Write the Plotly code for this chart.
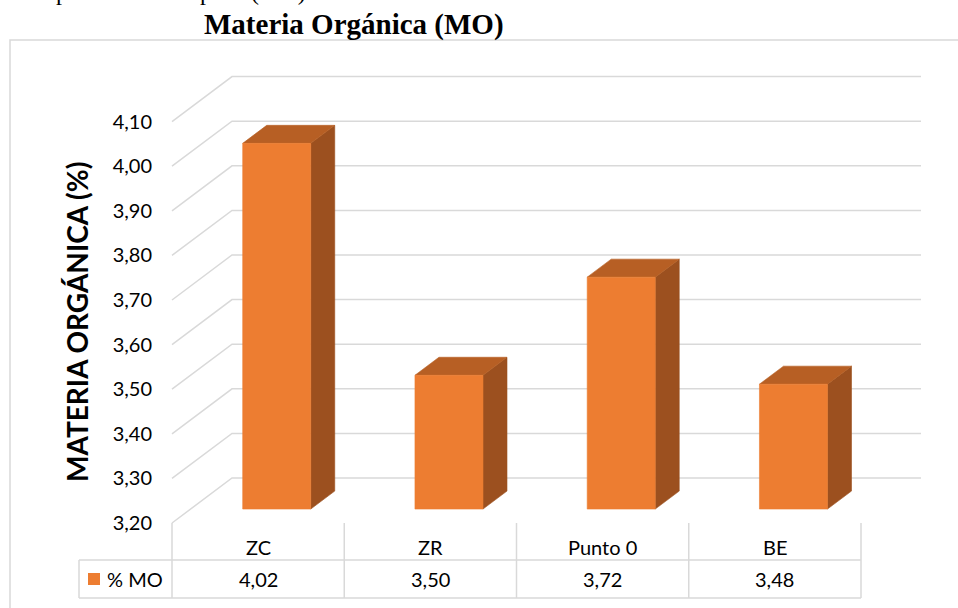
import plotly.graph_objects as go

# ---- data ----
categories = ["ZC", "ZR", "Punto 0", "BE"]
mo_values = [4.02, 3.50, 3.72, 3.48]
series_name = "% MO"
y_ticks = [3.20, 3.30, 3.40, 3.50, 3.60, 3.70, 3.80, 3.90, 4.00, 4.10]
title_text = "Materia Orgánica (MO)"
y_title = "MATERIA ORGÁNICA (%)"

# ---- layout geometry (pixels of the 958x608 canvas) ----
W, H = 958, 608
FLOOR_PX = 523          # base value on the front plane
PX_PER_UNIT_Y = 446     # pixels per 1.0 of value
COL_PX = 172.25         # width of one category column
LEFT_PX = 172           # left edge of the front plane
DOMAIN_LEFT_PX = 153    # where the y axis labels end

base = y_ticks[0]
y_lo = base - (H - FLOOR_PX) / PX_PER_UNIT_Y
y_hi = base + FLOOR_PX / PX_PER_UNIT_Y
x_lo = -(LEFT_PX - DOMAIN_LEFT_PX) / COL_PX
x_hi = (W - LEFT_PX) / COL_PX

# oblique offset from front plane to back wall (axis units)
DX = 60 / COL_PX
DY = 45 / PX_PER_UNIT_Y
# bar placement inside the depth, and bar width (fraction of a column)
D_FRONT, D_BACK = 0.31, 0.71
BAR_W = 0.395

FRONT = "#ED7D31"
TOP = "#B75F24"
SIDE = "#9C501F"
GRID = "#D9D9D9"
FONT = "Lato"


def py(px):
    """canvas pixel row -> paper y"""
    return 1 - px / H


def px_x(px):
    """canvas pixel column -> paper x"""
    return px / W


def col_edge(i):
    """paper x of the i-th column boundary of the front plane / table"""
    return px_x(LEFT_PX + i * COL_PX)


fig = go.Figure()

# back wall gridlines with their receding side-wall segments
n = len(categories)
for v in y_ticks:
    fig.add_trace(go.Scatter(
        x=[0, DX, n + DX], y=[v, v + DY, v + DY],
        mode="lines", line=dict(color=GRID, width=1.5),
        hoverinfo="skip", showlegend=False))


def face(xs, ys, color):
    fig.add_trace(go.Scatter(
        x=xs + [xs[0]], y=ys + [ys[0]], mode="lines", fill="toself",
        fillcolor=color, line=dict(color=color, width=0.6),
        hoverinfo="skip", showlegend=False))


# 3-D columns
for i, v in enumerate(mo_values):
    c = i + 0.5
    xl, xr = c - BAR_W / 2, c + BAR_W / 2
    fx, fy = D_FRONT * DX, D_FRONT * DY
    bx, by = D_BACK * DX, D_BACK * DY
    # right side
    face([xr + fx, xr + bx, xr + bx, xr + fx],
         [base + fy, base + by, v + by, v + fy], SIDE)
    # top
    face([xl + fx, xr + fx, xr + bx, xl + bx],
         [v + fy, v + fy, v + by, v + by], TOP)
    # front
    face([xl + fx, xr + fx, xr + fx, xl + fx],
         [base + fy, base + fy, v + fy, v + fy], FRONT)

shapes = []
line = dict(color=GRID, width=1.5)
# chart frame
shapes.append(dict(type="rect", xref="paper", yref="paper",
                   x0=px_x(10), x1=1.02, y0=-0.02, y1=py(40), line=line))
# data table: vertical separators
for i in range(n + 1):
    shapes.append(dict(type="line", xref="paper", yref="paper",
                       x0=col_edge(i), x1=col_edge(i),
                       y0=py(523), y1=py(598), line=line))
# legend cell left edge
shapes.append(dict(type="line", xref="paper", yref="paper",
                   x0=px_x(79), x1=px_x(79), y0=py(560), y1=py(598), line=line))
# table horizontal lines
for row_px in (560, 598):
    shapes.append(dict(type="line", xref="paper", yref="paper",
                       x0=px_x(79), x1=col_edge(n),
                       y0=py(row_px), y1=py(row_px), line=line))
# legend key square
shapes.append(dict(type="rect", xref="paper", yref="paper",
                   x0=px_x(88), x1=px_x(100), y0=py(585), y1=py(573),
                   fillcolor=FRONT, line=dict(width=0)))

table_font = dict(family=FONT, size=20, color="#000000")
annotations = []
for i, (cat, v) in enumerate(zip(categories, mo_values)):
    annotations.append(dict(x=i + 0.5, y=py(547), xref="x", yref="paper",
                            xanchor="center", yanchor="middle",
                            text=cat, showarrow=False, font=table_font))
    annotations.append(dict(x=i + 0.5, y=py(579), xref="x", yref="paper",
                            xanchor="center", yanchor="middle",
                            text=f"{v:.2f}".replace(".", ","), showarrow=False,
                            font=table_font))
annotations.append(dict(x=px_x(105), y=py(579), xref="paper", yref="paper",
                        xanchor="left", yanchor="middle", text=series_name,
                        showarrow=False, font=table_font))
# axis title
annotations.append(dict(x=px_x(77), y=py(322), xref="paper", yref="paper",
                        xanchor="center", yanchor="middle",
                        text=f"<b>{y_title}</b>", textangle=-90, showarrow=False,
                        font=dict(family=FONT, size=28, color="#000000")))
# chart title
annotations.append(dict(x=px_x(354), y=py(24), xref="paper", yref="paper",
                        xanchor="center", yanchor="middle",
                        text=f"<b>{title_text}</b>", showarrow=False,
                        font=dict(family="Liberation Serif", size=29, color="#000000")))
# tail of the preceding caption line, cut by the page edge
for txt, xp in (("p", 62), ("p", 206), ("(MO)", 278)):
    annotations.append(dict(x=px_x(xp), y=py(7), xref="paper", yref="paper",
                            xanchor="center", yanchor="bottom", text=txt,
                            showarrow=False,
                            font=dict(family="Liberation Serif", size=24, color="#000000")))

fig.update_layout(
    width=W, height=H,
    margin=dict(l=0, r=0, t=0, b=0),
    paper_bgcolor="white", plot_bgcolor="white",
    separators=",.",
    showlegend=False,
    xaxis=dict(domain=[DOMAIN_LEFT_PX / W, 1], range=[x_lo, x_hi],
               visible=False, fixedrange=True),
    yaxis=dict(domain=[0, 1], range=[y_lo, y_hi], tickvals=y_ticks,
               tickformat=".2f", showgrid=False, zeroline=False, showline=False,
               ticks="", tickfont=dict(family=FONT, size=20, color="#000000"),
               fixedrange=True),
    shapes=shapes,
    annotations=annotations,
)

fig.write_html("out.html")
